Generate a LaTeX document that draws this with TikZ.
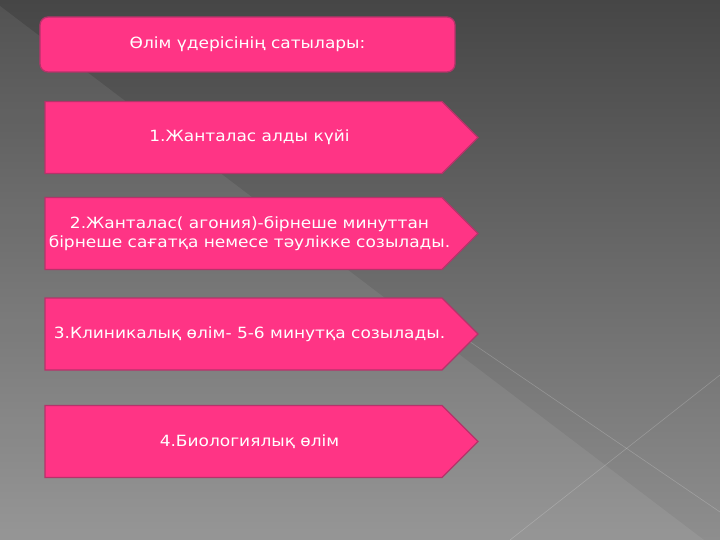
\documentclass[tikz,border=0pt]{standalone}
\usepackage{fontspec}
\setmainfont{DejaVu Sans}[FakeStretch=1.1]

\definecolor{bgtop}{HTML}{464646}
\definecolor{bgbottom}{HTML}{8E8E8E}
\definecolor{stagepink}{HTML}{FF3485}
\definecolor{stageedge}{HTML}{B5336A}

\pgfdeclarelayer{backdrop}
\pgfdeclarelayer{shapes}
\pgfsetlayers{backdrop,shapes,main}

\tikzstyle{stagefont}=[text=white,font=\fontsize{15.5}{19.5}\selectfont]
\tikzstyle{heading}=[stagefont,rounded corners=8bp,fill=stagepink,draw=stageedge,line width=1.3bp,minimum width=415bp,minimum height=55bp]
\tikzstyle{stagebody}=[stagefont,align=center,inner sep=0pt]

\newcommand{\stagearrow}[1]{% pointed box behind node #1: body 397 wide, 72 high, tip 36
  \begin{pgfonlayer}{shapes}
  \draw[fill=stagepink,draw=stageedge,line width=1.3bp] (#1.center) ++(-204.5,-36) -- ++(397,0) -- ++(36,36) -- ++(-36,36) -- ++(-397,0) -- cycle;
  \end{pgfonlayer}
}

\begin{document}
\begin{tikzpicture}[x=1bp,y=-1bp]
	\useasboundingbox (0,0) rectangle (720,540);
	\begin{pgfonlayer}{backdrop}
	\shade[top color=bgtop,bottom color=bgbottom] (0,0) rectangle (720,540);
	\fill[white,opacity=0.07] (0,6) -- (704,540) -- (0,540) -- cycle;
	%thin streaks
	\draw[white,opacity=0.2,line width=0.6bp] (460,335) -- (720,512);
	\draw[white,opacity=0.2,line width=0.6bp] (510,540) -- (720,375);
	\end{pgfonlayer}

	\node[heading] (title) at (247.5,44.5) {Өлім үдерісінің сатылары:};

	\node[stagebody] (s1) at (249.5,137.5) {1.Жанталас алды күйі};
	\stagearrow{s1}
	\node[stagebody] (s2) at (249.5,233.5) {2.Жанталас( агония)-бірнеше минуттан\\бірнеше сағатқа немесе тәулікке созылады.};
	\stagearrow{s2}
	\node[stagebody] (s3) at (249.5,334) {3.Клиникалық өлім- 5-6 минутқа созылады.};
	\stagearrow{s3}
	\node[stagebody] (s4) at (249.5,441.5) {4.Биологиялық өлім};
	\stagearrow{s4}
\end{tikzpicture}
\end{document}
